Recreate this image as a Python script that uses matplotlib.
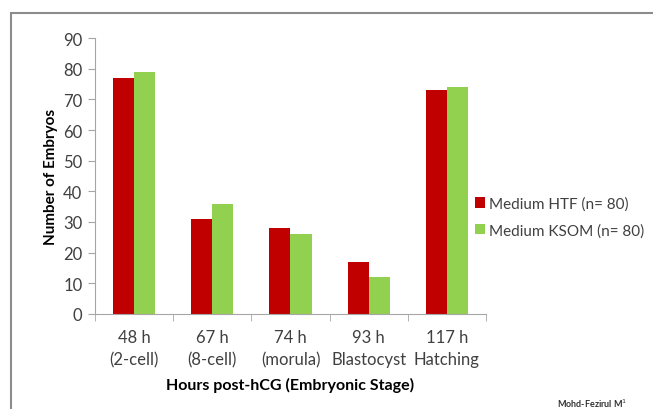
import numpy as np
import matplotlib
matplotlib.use("Agg")
import matplotlib.pyplot as plt
from matplotlib.patches import Rectangle

plt.rcParams['font.family'] = ['Lato', 'DejaVu Sans']

# data
stages = ["48 h\n(2-cell)", "67 h\n(8-cell)", "74 h\n(morula)", "93 h\nBlastocyst", "117 h\nHatching"]
htf = [77, 31, 28, 17, 73]
ksom = [79, 36, 26, 12, 74]
labels = ["Medium HTF (n= 80)", "Medium KSOM (n= 80)"]

red = "#C00000"
green = "#92D050"
txt = "#404040"
axcol = "#A6A6A6"

fig = plt.figure(figsize=(6.53, 4.10), dpi=100)
fig.patch.set_facecolor("white")

# outer frame of the original slide
fig.patches.append(Rectangle((11 / 653, -0.1), 1.2, 1.1 - 14 / 410,
                             transform=fig.transFigure, fill=False,
                             edgecolor="#8c8c8c", linewidth=1.5))

ax = fig.add_axes([95 / 653, 1 - 315 / 410, (486 - 95) / 653, (315 - 39) / 410])

x = np.arange(len(stages))
w = 0.27
ax.bar(x - w / 2, htf, w, color=red, label=labels[0])
ax.bar(x + w / 2, ksom, w, color=green, label=labels[1])

ax.set_xlim(-0.5, len(stages) - 0.5)
ax.set_ylim(0, 90)
ax.set_yticks(range(0, 91, 10))
ax.set_xticks(x)
ax.set_xticklabels(stages, fontsize=12, color=txt, linespacing=1.45)
ax.set_xticks(np.arange(-0.5, len(stages)), minor=True)
ax.tick_params(axis="x", which="major", length=0, pad=11)
ax.tick_params(axis="x", which="minor", length=5, color=axcol, direction="out")
ax.tick_params(axis="y", length=5, color=axcol, labelsize=12, labelcolor=txt, pad=4)

for s in ["top", "right"]:
    ax.spines[s].set_visible(False)
for s in ["left", "bottom"]:
    ax.spines[s].set_color(axcol)

ax.set_ylabel("Number of Embryos", fontsize=11, fontweight="bold", color="black", labelpad=4)
ax.set_xlabel("Hours post-hCG (Embryonic Stage)", fontsize=11.5, fontweight="bold", color="black", labelpad=7)

fig.legend(loc="center left", bbox_to_anchor=(461 / 653, 1 - 218 / 410), frameon=False,
           fontsize=11, handlelength=0.65, handleheight=0.65, handletextpad=0.3,
           labelspacing=0.8, labelcolor=txt)

fig.text(557 / 653, 1 - 404 / 410, "Mohd-Fezirul M$^1$", fontsize=6.5, color="#333333",
         fontweight="bold", va="center")

fig.savefig("out.png", dpi=100)
